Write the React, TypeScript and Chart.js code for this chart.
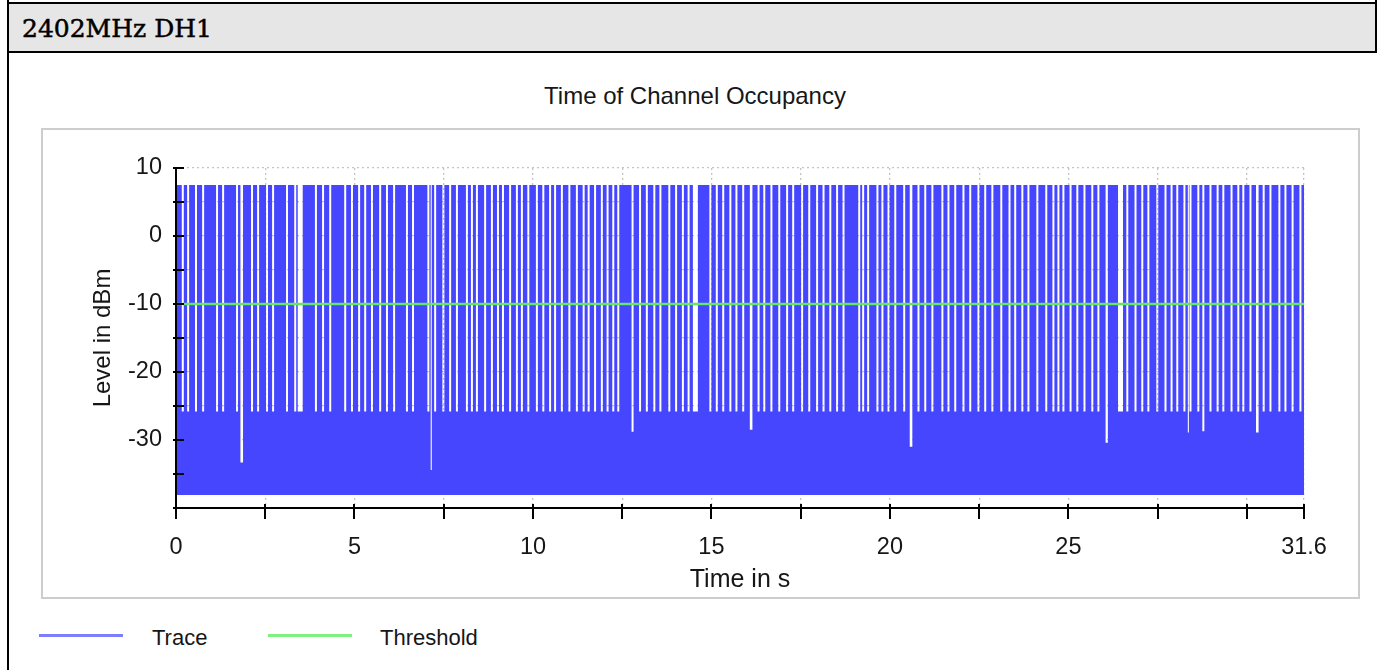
import React, { useEffect, useRef } from 'react';
import { Chart, registerables } from 'chart.js';

Chart.register(...registerables);

// ---- data ----
const xTickValues = [0, 2.5, 5, 7.5, 10, 12.5, 15, 17.5, 20, 22.5, 25, 27.5, 30, 31.6];
const xTickLabels = ['0', '', '5', '', '10', '', '15', '', '20', '', '25', '', '', '31.6'];
const yTickValues = [-40, -35, -30, -25, -20, -15, -10, -5, 0, 5, 10];
const yTickLabels = ['', '', '-30', '', '-20', '', '-10', '', '0', '', '10'];
const timeMin = 0;
const timeMax = 31.6;
const levelMin = -40;
const levelMax = 10;
const thresholdLevel = -10;
const burstLevel = 7.5; // top of the transmissions (dBm)
const noiseTopLevel = -25.8; // top of the noise band seen in the gaps (dBm)
const noiseFloorLevel = -38.1; // bottom of the noise band (dBm)

// times (s) of the short pauses between transmissions
const gapTimes = [
  0.19, 0.34, 0.56, 0.76, 1.15, 1.32, 1.71, 1.85, 2.13, 2.3, 2.55, 2.72, 3.11, 3.34, 3.48,
  3.92, 4.12, 4.32, 4.74, 4.93, 5.13, 5.3, 5.49, 5.72, 5.91, 6.11, 6.47, 6.64,
  7.07, 7.26, 7.49, 7.68, 7.87, 8.15, 8.29, 8.43, 8.66, 8.85, 9.02, 9.16, 9.36, 9.55, 9.69,
  9.87, 10.11, 10.29, 10.48, 10.62, 10.81, 11.02, 11.23, 11.42, 11.56, 11.74, 11.93, 12.09,
  12.25, 12.39, 12.79, 13.0, 13.19, 13.4, 13.57, 13.82, 14.01, 14.2, 14.36, 14.55, 14.97,
  15.15, 15.33, 15.53, 15.7, 15.89, 16.12, 16.32, 16.48, 16.68, 16.9, 17.12, 17.29, 17.54,
  17.74, 17.96, 18.14, 18.33, 18.52, 18.7, 19.14, 19.25, 19.39, 19.65, 19.79, 19.96, 20.15,
  20.4, 20.6, 20.8, 20.99, 21.19, 21.47, 21.64, 21.83, 22.06, 22.25, 22.48, 22.67, 22.87,
  23.12, 23.35, 23.51, 23.71, 23.88, 24.13, 24.38, 24.58, 24.72, 24.86, 25.06, 25.25, 25.45,
  25.67, 25.84, 26.07, 26.46, 26.65, 26.88, 27.07, 27.24, 27.49, 27.72, 27.89, 28.05, 28.25,
  28.42, 28.64, 28.78, 28.98, 29.18, 29.34, 29.57, 29.76, 29.9, 30.1, 30.3, 30.47, 30.66,
  30.91, 31.08, 31.28, 31.5,
];
const gapWidth = 0.056; // s
const wideGapTimes = [3.48, 14.55, 26.46];
const wideGapWidth = 0.14; // s

// narrow dips reaching into the noise band
const dipTimes = [1.82, 7.15, 12.78, 16.09, 20.57, 26.09, 28.36, 28.78, 30.27];
const dipLevels = [-33.3, -34.4, -28.8, -28.5, -31.0, -30.4, -28.9, -28.7, -28.9];
const dipWidth = 0.03;

const BLUE = '#4646ff';
const GREEN = '#64e864';
const TEXT = '#161616';
const FONT = "'Liberation Sans', Arial, sans-serif";

type Ev = { a: number; b: number; bottom: number };

function buildTrace() {
  const evs: Ev[] = [];
  gapTimes.forEach((t) => {
    const w = wideGapTimes.includes(t) ? wideGapWidth : gapWidth;
    evs.push({ a: t - w / 2, b: t + w / 2, bottom: noiseTopLevel });
  });
  dipTimes.forEach((t, i) => {
    evs.push({ a: t - dipWidth / 2, b: t + dipWidth / 2, bottom: dipLevels[i] });
  });
  evs.sort((p, q) => p.a - q.a);
  const merged: Ev[] = [];
  for (const e of evs) {
    const last = merged[merged.length - 1];
    if (last && e.a <= last.b) {
      last.b = Math.max(last.b, e.b);
      last.bottom = Math.min(last.bottom, e.bottom);
    } else merged.push({ ...e });
  }
  const pts: { x: number; y: number }[] = [{ x: timeMin, y: burstLevel }];
  for (const e of merged) {
    const a = Math.max(timeMin, e.a);
    const b = Math.min(timeMax, e.b);
    pts.push({ x: a, y: burstLevel }, { x: a, y: e.bottom }, { x: b, y: e.bottom }, { x: b, y: burstLevel });
  }
  pts.push({ x: timeMax, y: burstLevel });
  return pts;
}

const tickMarks = {
  id: 'tickMarks',
  afterDraw(chart: any) {
    const { ctx, chartArea, scales } = chart;
    const x = scales.x;
    const y = scales.y;
    ctx.save();
    ctx.strokeStyle = '#000';
    ctx.lineWidth = 2;
    ctx.beginPath();
    for (const v of xTickValues) {
      const px = Math.round(x.getPixelForValue(v));
      ctx.moveTo(px, chartArea.bottom - 4);
      ctx.lineTo(px, chartArea.bottom + 11);
    }
    for (const v of yTickValues) {
      const py = Math.round(y.getPixelForValue(v));
      ctx.moveTo(chartArea.left - 3, py);
      ctx.lineTo(chartArea.left + 8, py);
    }
    ctx.stroke();
    ctx.restore();
  },
};

export default function App() {
  const ref = useRef<HTMLCanvasElement>(null);

  useEffect(() => {
    if (!ref.current) return;
    const tickFont = { family: FONT, size: 23.5 };
    const chart = new Chart(ref.current, {
      type: 'line',
      data: {
        datasets: [
          {
            label: 'Threshold',
            data: [
              { x: timeMin, y: thresholdLevel },
              { x: timeMax, y: thresholdLevel },
            ],
            borderColor: GREEN,
            borderWidth: 2.5,
            pointRadius: 0,
            fill: false,
            order: 1,
          },
          {
            label: 'Trace',
            data: buildTrace(),
            borderColor: 'rgba(0,0,0,0)',
            borderWidth: 1,
            backgroundColor: BLUE,
            fill: { value: noiseFloorLevel },
            pointRadius: 0,
            tension: 0,
            order: 2,
          },
        ],
      },
      options: {
        animation: false,
        responsive: false,
        layout: { padding: { left: 80, right: 74, top: 108, bottom: 0 } },
        plugins: {
          legend: { display: false },
          title: { display: false },
          tooltip: { enabled: false },
        },
        scales: {
          x: {
            type: 'linear',
            min: timeMin,
            max: timeMax,
            afterBuildTicks: (s: any) => {
              s.ticks = xTickValues.map((v) => ({ value: v }));
            },
            afterFit: (s: any) => {
              s.height = 92;
            },
            ticks: {
              autoSkip: false,
              maxRotation: 0,
              padding: 25,
              font: tickFont,
              color: TEXT,
              callback: (v: any) => {
                const i = xTickValues.findIndex((t) => Math.abs(t - Number(v)) < 1e-6);
                return i >= 0 ? xTickLabels[i] : '';
              },
            },
            grid: { drawTicks: false, color: '#c4c4c4', lineWidth: 1.3 },
            border: { color: '#000', width: 2, dash: [2, 3], z: 1 },
            title: {
              display: true,
              text: 'Time in s',
              font: { family: FONT, size: 25 },
              color: TEXT,
              padding: { top: 0, bottom: 5 },
            },
          },
          y: {
            type: 'linear',
            min: levelMin,
            max: levelMax,
            afterBuildTicks: (s: any) => {
              s.ticks = yTickValues.map((v) => ({ value: v }));
            },
            afterFit: (s: any) => {
              s.width = 96;
            },
            ticks: {
              autoSkip: false,
              padding: 14,
              font: tickFont,
              color: TEXT,
              callback: (v: any) => {
                const i = yTickValues.findIndex((t) => Math.abs(t - Number(v)) < 1e-6);
                return i >= 0 ? yTickLabels[i] : '';
              },
            },
            grid: { drawTicks: false, color: '#c4c4c4', lineWidth: 1.3 },
            border: { color: '#000', width: 2, dash: [2, 3], z: 1 },
            title: {
              display: true,
              text: 'Level in dBm',
              font: { family: FONT, size: 24 },
              color: TEXT,
              padding: { top: 9, bottom: 0 },
            },
          },
        },
      } as any,
      plugins: [tickMarks],
    });
    return () => chart.destroy();
  }, []);

  const abs = (s: React.CSSProperties): React.CSSProperties => ({ position: 'absolute', ...s });

  return (
    <div style={abs({ left: 0, top: 0, width: 1378, height: 670, overflow: 'hidden', background: '#fff' })}>
      <div style={abs({ left: 9, top: 4, width: 1366, height: 47, background: '#e6e6e6' })} />
      <div style={abs({ left: 7, top: 2, width: 1370, height: 2, background: '#000' })} />
      <div style={abs({ left: 7, top: 0, width: 2, height: 670, background: '#000' })} />
      <div style={abs({ left: 1375, top: 0, width: 2, height: 53, background: '#000' })} />
      <div style={abs({ left: 7, top: 51, width: 1370, height: 2, background: '#000' })} />
      <div
        style={abs({
          left: 22,
          top: 16,
          fontFamily: "'DejaVu Serif', serif",
          fontSize: 25,
          lineHeight: '25px',
          color: '#000',
          whiteSpace: 'nowrap',
          WebkitTextStroke: '0.5px #000',
        })}
      >
        2402MHz DH1
      </div>
      <div
        style={abs({
          left: 395,
          top: 84,
          width: 600,
          textAlign: 'center',
          fontFamily: FONT,
          fontSize: 24,
          lineHeight: '24px',
          color: TEXT,
          whiteSpace: 'nowrap',
        })}
      >
        Time of Channel Occupancy
      </div>
      <div
        style={abs({
          left: 41,
          top: 128,
          width: 1319,
          height: 471,
          border: '2px solid #cdcdcd',
          boxSizing: 'border-box',
        })}
      />
      <canvas
        ref={ref}
        width={1378}
        height={540}
        style={abs({ left: 0, top: 60, width: 1378, height: 540 })}
      />
      <div style={abs({ left: 39, top: 634, width: 84, height: 3, background: '#7c7cff' })} />
      <div
        style={abs({ left: 152, top: 627, fontFamily: FONT, fontSize: 22, lineHeight: '22px', color: TEXT })}
      >
        Trace
      </div>
      <div style={abs({ left: 268, top: 634, width: 84, height: 3, background: '#7ef07e' })} />
      <div
        style={abs({ left: 380, top: 627, fontFamily: FONT, fontSize: 22, lineHeight: '22px', color: TEXT })}
      >
        Threshold
      </div>
    </div>
  );
}
